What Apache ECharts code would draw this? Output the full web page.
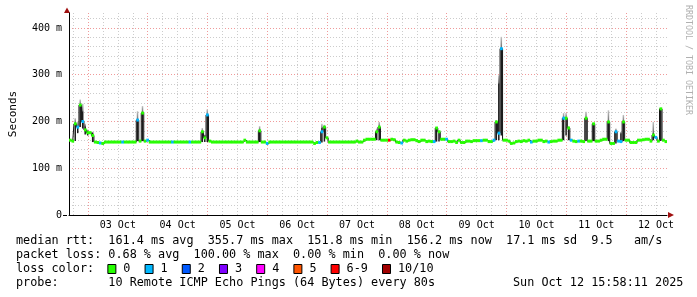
<!DOCTYPE html>
<html><head><meta charset="utf-8">
<script src="https://cdn.jsdelivr.net/npm/echarts@6/dist/echarts.min.js"></script>
<style>html,body{margin:0;padding:0;background:#fff}#c{width:697px;height:297px}</style>
</head><body><div id="c"></div>
<script>
// ---- data ----
const startHour = 16.4;   // left edge, hours after 02 Oct 00:00
const endHour = 256.4;    // right edge
const stepHours = 1;      // one median sample per hour
const dayLabels = ['03 Oct','04 Oct','05 Oct','06 Oct','07 Oct','08 Oct','09 Oct','10 Oct','11 Oct','12 Oct'];
const yTickValues = [0, 100, 200, 300, 400];
const yTickLabels = ['0', '100 m', '200 m', '300 m', '400 m'];

// median rtt (ms), one value per hour
const medianRtt = [
 160,158,195,188,235,200,182,176,176,170,
 156,155,154,153,156,156,156,156,156,156,
 156,156,156,156,156,156,156,203,158,218,
 158,160,156,156,156,156,156,156,156,156,
 156,156,156,156,156,156,156,156,156,156,
 156,156,156,178,165,214,158,156,156,156,
 156,156,156,156,156,156,156,156,156,156,
 160,156,156,156,156,156,180,156,156,153,
 156,156,156,156,156,156,156,156,156,156,
 156,156,156,156,156,156,156,156,153,155,
 155,178,188,165,156,156,156,156,156,156,
 156,156,156,156,156,158,156,156,160,162,
 162,162,162,178,188,160,160,160,160,162,
 161,156,155,154,160,158,160,161,161,159,
 157,160,160,157,158,157,157,186,178,162,
 162,162,157,157,158,155,160,155,155,158,
 158,157,159,159,159,159,160,160,157,157,
 160,199,175,355.7,160,160,158,153,154,157,
 158,157,159,158,160,156,158,158,160,160,
 157,158,156,157,158,158,160,160,207,207,
 186,160,158,157,158,158,157,207,158,158,
 195,158,158,160,162,162,199,153,153,178,
 158,157,199,160,160,155,155,155,160,160,
 161,162,162,158,171,166,158,227,160,157
];
// samples with lost pings (index into medianRtt, lost count of 10)
const lossIndex = [3,5,12,21,27,31,41,48,55,79,100,101,128,133,146,151,165,170,172,173,185,192,198,201,204,219,220,221,235];
const lossCount = [1,1,1,1,1,1,1,1,1,1,1,1,6,1,1,1,1,1,1,1,1,1,1,1,1,1,1,1,1];
// smoke (spread of the 10 pings) for samples where it is visible
const smokeIndex = [2,3,4,5,6,7,9,27,29,53,54,55,76,101,102,123,124,147,148,171,172,173,198,199,200,207,210,216,219,221,222,234,237];
const smokeLow  = [158,175,188,185,172,170,156,158,158,156,156,156,156,155,157,160,160,157,157,160,160,170,160,170,160,158,158,158,153,157,158,160,158];
const smokeHigh = [197,190,235,222,190,180,176,203,220,178,170,214,182,186,188,178,190,186,178,199,282,357,207,207,186,207,195,199,180,175,199,175,227];
const smokeTop  = [207,200,247,238,195,183,178,222,233,186,172,226,190,195,193,185,199,188,180,203,299,381,218,218,190,221,197,224,185,178,214,199,229];

const rttStats = ['161.4 ms avg', '355.7 ms max', '151.8 ms min', '156.2 ms now', '17.1 ms sd', '9.5   am/s'];
const lossStats = ['0.68 % avg', '100.00 % max', '0.00 % min', '0.00 % now'];
const lossLegendLabels = ['0', '1', '2', '3', '4', '5', '6-9', '10/10'];
const lossColors = ['#26ff00', '#00b8ff', '#0059ff', '#7e00ff', '#ff00ff', '#ff5500', '#ff0000', '#a10000'];
const probeText = '10 Remote ICMP Echo Pings (64 Bytes) every 80s';
const dateText = 'Sun Oct 12 15:58:11 2025';

// ---- build ----
const MONO = '"DejaVu Sans Mono", monospace';
function lossColorIdx(n) { if (n <= 5) return n; if (n < 10) return 6; return 7; }
const lossAt = medianRtt.map(() => 0);
lossIndex.forEach((k, j) => { lossAt[k] = lossCount[j]; });
const tOf = i => startHour + (i + 0.5) * stepHours;

const majorHours = [], minorHours = [], labelHours = [];
for (let h = Math.ceil(startHour / 6) * 6; h <= endHour; h += 6) {
  if (h % 24 === 0) majorHours.push(h); else minorHours.push(h);
}
dayLabels.forEach((d, k) => labelHours.push(36 + 24 * k));
const yMinor = [];
for (let v = 20; v < 432; v += 20) if (v % 100 !== 0) yMinor.push(v);

const smokeData = smokeIndex.map((k, j) => [tOf(k), smokeLow[j], smokeHigh[j], smokeTop[j]]);
const lineData = medianRtt.map((v, i) => [tOf(i), v]);
const capData = medianRtt.map((v, i) => [tOf(i), v, lossAt[i]]);

const chart = echarts.init(document.getElementById('c'), null, {renderer: 'canvas'});
const dotted = [1, 2];

const graphics = [];
const LX = 16, CW = 7.105, FS = '11.8px ' + MONO;
function txt(x, y, s, extra) {
  graphics.push(Object.assign({type: 'text', x: x, y: y, silent: true,
    style: {text: s, font: FS, fill: '#000', verticalAlign: 'middle', align: 'left'}}, extra || {}));
}
txt(LX, 241, 'median rtt:  ' + rttStats.join('  '));
txt(LX, 255, 'packet loss: ' + lossStats.join('  '));
txt(LX, 269, 'loss color:');
let bx = LX + 13 * CW - 0.5;
lossLegendLabels.forEach((lab, k) => {
  graphics.push({type: 'rect', silent: true, shape: {x: bx, y: 264.5, width: 8, height: 9},
    style: {fill: lossColors[k], stroke: '#000', lineWidth: 1}});
  txt(bx + 15.5, 269, lab);
  bx += 30.1 + lab.length * CW;
});
txt(LX, 283, 'probe:       ' + probeText);
txt(513, 283, dateText);
// credit
graphics.push({type: 'text', x: 688, y: 5, rotation: -Math.PI / 2, silent: true,
  style: {text: 'RRDTOOL / TOBI OETIKER', font: '8.3px ' + MONO, fill: '#b0b0b0', verticalAlign: 'middle', align: 'left'}});
// axis extensions and arrows
graphics.push({type: 'line', silent: true, shape: {x1: 63, y1: 215.5, x2: 67, y2: 215.5}, style: {stroke: '#000', lineWidth: 1}});
graphics.push({type: 'polygon', silent: true, shape: {points: [[64, 13], [70, 13], [67, 7.5]]}, style: {fill: '#a01010'}});
graphics.push({type: 'polygon', silent: true, shape: {points: [[668, 212], [668, 218], [674, 215]]}, style: {fill: '#a01010'}});

const option = {
  animation: false,
  backgroundColor: '#ffffff',
  grid: {left: 67, top: 13, width: 600, height: 202, containLabel: false},
  xAxis: [
    {type: 'value', min: startHour, max: endHour, position: 'bottom',
     axisLine: {show: true, onZero: false, lineStyle: {color: '#000', width: 1}},
     axisTick: {show: false, customValues: majorHours},
     axisLabel: {customValues: labelHours, formatter: v => dayLabels[Math.round((v - 36) / 24)] || '',
                 fontFamily: MONO, fontSize: 10, color: '#000', margin: 5},
     splitLine: {show: true, lineStyle: {color: '#f09a9a', type: dotted, width: 1}}},
    {type: 'value', min: startHour, max: endHour, position: 'top',
     axisLine: {show: false}, axisTick: {show: false, customValues: minorHours}, axisLabel: {show: false},
     splitLine: {show: true, lineStyle: {color: '#cccccc', type: dotted, width: 1}}}
  ],
  yAxis: [
    {type: 'value', min: 0, max: 432, position: 'left',
     axisLine: {show: true, onZero: false, lineStyle: {color: '#000', width: 1}},
     axisTick: {show: false, customValues: yTickValues},
     axisLabel: {customValues: yTickValues, formatter: v => yTickLabels[yTickValues.indexOf(v)],
                 fontFamily: MONO, fontSize: 10, color: '#000', margin: 7},
     splitLine: {show: true, lineStyle: {color: '#f09a9a', type: dotted, width: 1}},
     name: 'Seconds', nameLocation: 'middle', nameGap: 50,
     nameTextStyle: {fontFamily: MONO, fontSize: 11, color: '#000'}},
    {type: 'value', min: 0, max: 432, position: 'right',
     axisLine: {show: false}, axisTick: {show: false, customValues: yMinor}, axisLabel: {show: false},
     splitLine: {show: true, lineStyle: {color: '#cccccc', type: dotted, width: 1}}}
  ],
  series: [
    {type: 'custom', name: 'smoke', xAxisIndex: 0, yAxisIndex: 0, clip: true, z: 2,
     data: smokeData, encode: {x: 0, y: [1, 2, 3]},
     renderItem: function (params, api) {
       const t = api.value(0);
       const pTop = api.coord([t - 0.3 * stepHours, api.value(3)]);
       const pHi = api.coord([t + 0.3 * stepHours, api.value(2)]);
       const pLo = api.coord([t + 0.3 * stepHours, api.value(1)]);
       const x = pTop[0], w = pHi[0] - pTop[0];
       return {type: 'group', children: [
         {type: 'rect', shape: {x: x, y: pTop[1], width: w, height: pHi[1] - pTop[1]},
          style: {fill: new echarts.graphic.LinearGradient(0, 0, 0, 1, [{offset: 0, color: '#c4c4c4'}, {offset: 1, color: '#6a6a6a'}])}},
         {type: 'rect', shape: {x: x, y: pHi[1], width: w, height: pLo[1] - pHi[1]}, style: {fill: '#1c1c1c'}}
       ]};
     }},
    {type: 'line', name: 'median', xAxisIndex: 0, yAxisIndex: 0, data: lineData, step: 'middle',
     symbol: 'none', z: 3, lineStyle: {color: '#111', width: 1}},
    {type: 'custom', name: 'median loss color', xAxisIndex: 0, yAxisIndex: 0, clip: true, z: 4,
     data: capData, encode: {x: 0, y: 1},
     renderItem: function (params, api) {
       const t = api.value(0), v = api.value(1);
       const p0 = api.coord([t - 0.5 * stepHours, v]);
       const p1 = api.coord([t + 0.5 * stepHours, v]);
       return {type: 'rect', shape: {x: p0[0], y: p0[1] - 1.5, width: p1[0] - p0[0] + 0.2, height: 3},
               style: {fill: lossColors[lossColorIdx(api.value(2))]}};
     }}
  ],
  graphic: graphics
};
chart.setOption(option);
</script></body></html>
